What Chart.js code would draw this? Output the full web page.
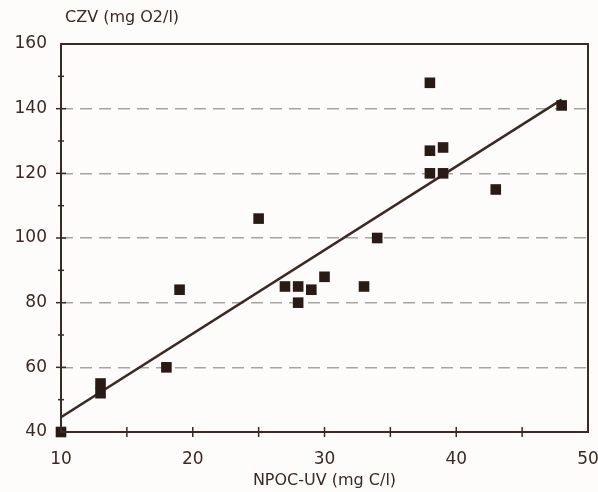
<!DOCTYPE html>
<html>
<head>
<meta charset="utf-8">
<script src="https://cdn.jsdelivr.net/npm/chart.js@4.4.1/dist/chart.umd.min.js"></script>
<style>
  html, body { margin: 0; padding: 0; background: #fdfcfa; }
  #wrap { width: 598px; height: 492px; }
</style>
</head>
<body>
<div id="wrap"><canvas id="scatter"></canvas></div>
<script>
// values
const npocValues = [10, 13, 13, 18, 19, 25, 27, 28, 28, 29, 30, 33, 34, 38, 38, 38, 39, 39, 43, 48];
const czvValues  = [40, 55, 52, 60, 84, 106, 85, 85, 80, 84, 88, 85, 100, 148, 127, 120, 128, 120, 115, 141];
const fitX = [10, 48];
const fitY = [44.6, 142.8];
const xTicks = [10, 20, 30, 40, 50];
const yTicks = [40, 60, 80, 100, 120, 140, 160];

const ink = "#3a2924";
const family = '"DejaVu Sans", sans-serif';

const points = npocValues.map((x, i) => ({ x, y: czvValues[i] }));
const fitLine = fitX.map((x, i) => ({ x, y: fitY[i] }));

// frame, small tick marks across the axes, y axis title
const framePlugin = {
  id: "frame",
  afterDraw(chart) {
    const { ctx, chartArea: a, scales } = chart;
    ctx.save();
    ctx.strokeStyle = ink;
    ctx.lineWidth = 2;
    ctx.strokeRect(a.left, a.top, a.right - a.left, a.bottom - a.top);
    ctx.lineWidth = 1.5;
    for (let v = 15; v < 50; v += 5) {
      const px = scales.x.getPixelForValue(v);
      ctx.beginPath();
      ctx.moveTo(px, a.bottom - 5);
      ctx.lineTo(px, a.bottom + 5);
      ctx.stroke();
    }
    for (let v = 50; v < 160; v += 10) {
      const py = scales.y.getPixelForValue(v);
      const len = v % 20 === 0 ? 5 : 3;
      ctx.beginPath();
      ctx.moveTo(a.left - len, py);
      ctx.lineTo(a.left + len, py);
      ctx.stroke();
    }
    ctx.fillStyle = ink;
    ctx.font = `16px ${family}`;
    ctx.textAlign = "left";
    ctx.textBaseline = "middle";
    ctx.fillText("CZV (mg O2/l)", a.left + 4, 18);
    ctx.restore();
  }
};

new Chart(document.getElementById("scatter"), {
  type: "scatter",
  data: {
    datasets: [
      {
        data: points,
        pointStyle: "rect",
        pointRadius: 7.5,
        pointHoverRadius: 7.5,
        backgroundColor: "#2a1a16",
        borderWidth: 0,
        clip: false
      },
      {
        type: "line",
        data: fitLine,
        borderColor: ink,
        borderWidth: 2.5,
        pointRadius: 0,
        fill: false
      }
    ]
  },
  options: {
    responsive: true,
    maintainAspectRatio: false,
    animation: false,
    layout: { padding: { top: 44, right: 0, left: 0, bottom: 0 } },
    plugins: { legend: { display: false }, tooltip: { enabled: false } },
    scales: {
      x: {
        type: "linear",
        min: 10,
        max: 50,
        afterBuildTicks: (s) => { s.ticks = xTicks.map(v => ({ value: v })); },
        afterFit: (s) => { s.height = 60; s.paddingRight = 10; s.paddingLeft = 0; },
        grid: { display: false, drawTicks: false },
        border: { display: false },
        ticks: { color: ink, font: { family, size: 17 }, padding: 17, maxRotation: 0 },
        title: { display: true, text: "NPOC-UV (mg C/l)", color: ink, font: { family, size: 16 }, padding: { top: 0, bottom: 2 } }
      },
      y: {
        min: 40,
        max: 160,
        afterBuildTicks: (s) => { s.ticks = yTicks.map(v => ({ value: v })); },
        afterFit: (s) => { s.width = 61; },
        grid: {
          drawTicks: false,
          color: (c) => (c.tick && c.tick.value > 40 && c.tick.value < 160) ? "#a9a3a0" : "rgba(0,0,0,0)",
          lineWidth: 1.4
        },
        border: { display: false, dash: [12, 7] },
        ticks: { color: ink, font: { family, size: 17 }, padding: 14 }
      }
    }
  },
  plugins: [framePlugin]
});
</script>
</body>
</html>
